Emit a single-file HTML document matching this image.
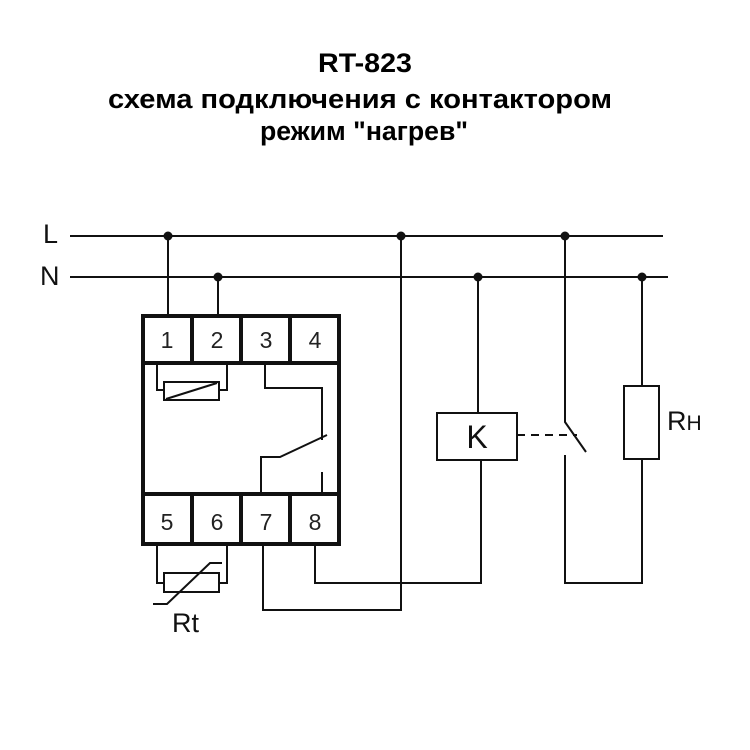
<!DOCTYPE html>
<html><head><meta charset="utf-8"><style>
html,body{margin:0;padding:0;background:#fff;}
svg{display:block}
</style></head><body>
<svg width="750" height="750" viewBox="0 0 750 750" xmlns="http://www.w3.org/2000/svg">
<rect width="750" height="750" fill="#fff"/>
<g font-family="Liberation Sans, Arial, sans-serif" font-weight="bold" font-size="27" text-anchor="middle" fill="#000">
<text x="365" y="72" textLength="94" lengthAdjust="spacingAndGlyphs">RT-823</text>
<text x="360" y="108" textLength="504" lengthAdjust="spacingAndGlyphs">схема подключения с контактором</text>
<text x="364" y="140" textLength="208" lengthAdjust="spacingAndGlyphs">режим "нагрев"</text>
</g>
<g font-family="Liberation Sans, Arial, sans-serif" font-size="27" fill="#111">
<text x="43" y="243">L</text>
<text x="40" y="285">N</text>
<text x="172" y="632">Rt</text>
<text x="667" y="430">R<tspan font-size="21">H</tspan></text>
<text x="477" y="448" font-size="32" text-anchor="middle">K</text>
</g>
<g font-family="Liberation Sans, Arial, sans-serif" font-size="23" fill="#222" text-anchor="middle">
<text x="167" y="348">1</text><text x="217" y="348">2</text><text x="266" y="348">3</text><text x="315" y="348">4</text>
<text x="167" y="530">5</text><text x="217" y="530">6</text><text x="266" y="530">7</text><text x="315" y="530">8</text>
</g>
<g stroke="#111" stroke-width="2" fill="none">
<line x1="70" y1="236" x2="663" y2="236"/>
<line x1="70" y1="277" x2="668" y2="277"/>
<line x1="168" y1="236" x2="168" y2="314"/>
<line x1="218" y1="277" x2="218" y2="314"/>
<polyline points="157,363 157,390 164,390"/>
<polyline points="219,390 227,390 227,363"/>
<rect x="164" y="382" width="55" height="18"/>
<line x1="166" y1="399" x2="217" y2="383"/>
<polyline points="265,363 265,388 322,388 322,440"/>
<polyline points="261,494 261,457 280,457 327,435"/>
<line x1="322" y1="472" x2="322" y2="494"/>
<polyline points="157,545 157,583 164,583"/>
<polyline points="219,583 227,583 227,545"/>
<rect x="164" y="573" width="55" height="19"/>
<polyline points="153,604 167,604 210,563 222,563"/>
<polyline points="263,545 263,610 401,610 401,236"/>
<polyline points="315,545 315,583 481,583 481,460"/>
<line x1="478" y1="277" x2="478" y2="413"/>
<rect x="437" y="413" width="80" height="47"/>
<line x1="517" y1="435" x2="577" y2="435" stroke-dasharray="8,6"/>
<polyline points="565,236 565,422 586,452"/>
<polyline points="565,455 565,583 642,583 642,459"/>
<rect x="624" y="386" width="35" height="73"/>
<line x1="642" y1="277" x2="642" y2="386"/>
</g>
<g stroke="#111" stroke-width="4" fill="none">
<rect x="143" y="316" width="196" height="228"/>
<line x1="143" y1="363" x2="339" y2="363"/>
<line x1="143" y1="494" x2="339" y2="494"/>
<line x1="192" y1="316" x2="192" y2="363"/><line x1="241" y1="316" x2="241" y2="363"/><line x1="290" y1="316" x2="290" y2="363"/>
<line x1="192" y1="494" x2="192" y2="544"/><line x1="241" y1="494" x2="241" y2="544"/><line x1="290" y1="494" x2="290" y2="544"/>
</g>
<g fill="#111">
<circle cx="168" cy="236" r="4.5"/><circle cx="401" cy="236" r="4.5"/><circle cx="565" cy="236" r="4.5"/>
<circle cx="218" cy="277" r="4.5"/><circle cx="478" cy="277" r="4.5"/><circle cx="642" cy="277" r="4.5"/>
</g>
</svg>
</body></html>
